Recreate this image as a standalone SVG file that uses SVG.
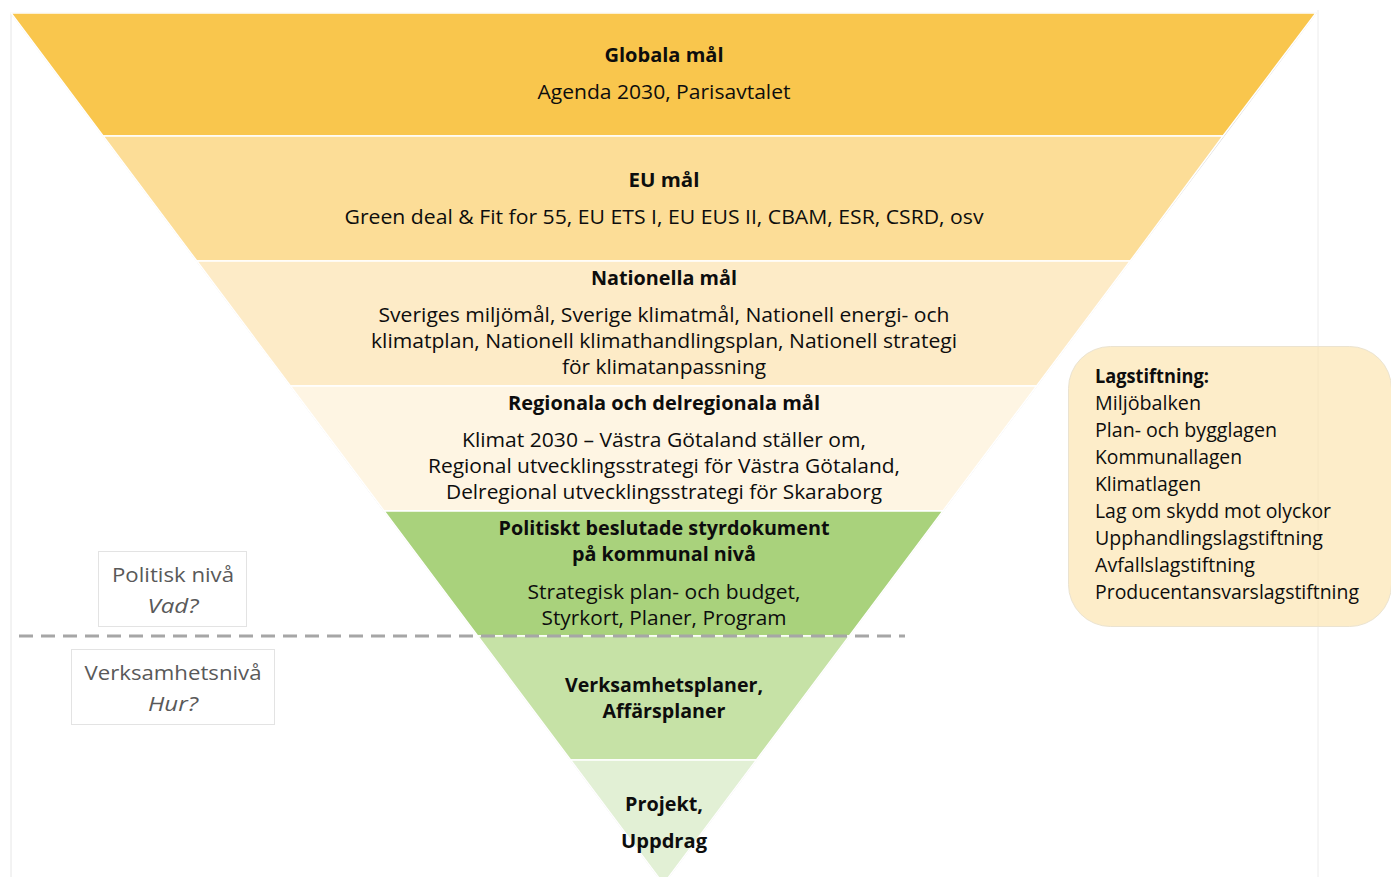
<svg xmlns="http://www.w3.org/2000/svg" width="1391" height="877" viewBox="0 0 1391 877">
<style>
text{font-family:"Open Sans","Noto Sans","Liberation Sans",sans-serif;font-size:19.5px;fill:#0d0d0d;}
.c{text-anchor:middle;}
.b{font-weight:bold;}
.band{stroke:#ffffff;stroke-width:1.5;}
.g{fill:#595959;font-size:20.5px;}
.i{font-style:italic;}
.lbl{fill:#ffffff;stroke:#e3e3e3;stroke-width:1;}
</style>
<rect x="0" y="0" width="1391" height="877" fill="#ffffff"/>
<line x1="11" y1="14" x2="11" y2="877" stroke="#e6e6e6" stroke-width="1"/>
<line x1="1318" y1="10" x2="1318" y2="877" stroke="#ececec" stroke-width="1"/>
<g id="pyramid">
<polygon points="11,13 1316,13 663.5,884" fill="none" stroke="#d9d9d9" stroke-width="1.2"/>
<g id="band-global"><polygon class="band" points="11,13 1316,13 1223,136 103.1,136" fill="#F9C64D"/>
<text class="c b" x="664" y="62" textLength="119" lengthAdjust="spacingAndGlyphs">Globala mål</text>
<text class="c" x="664" y="99" textLength="253" lengthAdjust="spacingAndGlyphs">Agenda 2030, Parisavtalet</text></g>
<g id="band-eu"><polygon class="band" points="103.1,136 1223,136 1130.2,261 196.8,261" fill="#FCDD97"/>
<text class="c b" x="664" y="187" textLength="71" lengthAdjust="spacingAndGlyphs">EU mål</text>
<text class="c" x="664" y="224" textLength="639" lengthAdjust="spacingAndGlyphs">Green deal &amp; Fit for 55, EU ETS I, EU EUS II, CBAM, ESR, CSRD, osv</text></g>
<g id="band-national"><polygon class="band" points="196.8,261 1130.2,261 1036.6,386 290.4,386" fill="#FDEBC7"/>
<text class="c b" x="664" y="285" textLength="146" lengthAdjust="spacingAndGlyphs">Nationella mål</text>
<text class="c" x="664" y="322" textLength="571" lengthAdjust="spacingAndGlyphs">Sveriges miljömål, Sverige klimatmål, Nationell energi- och</text>
<text class="c" x="664" y="348" textLength="586" lengthAdjust="spacingAndGlyphs">klimatplan, Nationell klimathandlingsplan, Nationell strategi</text>
<text class="c" x="664" y="374" textLength="204" lengthAdjust="spacingAndGlyphs">för klimatanpassning</text></g>
<g id="band-regional"><polygon class="band" points="290.4,386 1036.6,386 942.9,511 384.1,511" fill="#FEF5E3"/>
<text class="c b" x="664" y="410" textLength="312" lengthAdjust="spacingAndGlyphs">Regionala och delregionala mål</text>
<text class="c" x="664" y="447" textLength="404" lengthAdjust="spacingAndGlyphs">Klimat 2030 – Västra Götaland ställer om,</text>
<text class="c" x="664" y="473" textLength="472" lengthAdjust="spacingAndGlyphs">Regional utvecklingsstrategi för Västra Götaland,</text>
<text class="c" x="664" y="499" textLength="436" lengthAdjust="spacingAndGlyphs">Delregional utvecklingsstrategi för Skaraborg</text></g>
<g id="band-kommunal"><polygon class="band" points="384.1,511 942.9,511 849.3,636 477.7,636" fill="#A9D27C"/>
<text class="c b" x="664" y="535" textLength="331" lengthAdjust="spacingAndGlyphs">Politiskt beslutade styrdokument</text>
<text class="c b" x="664" y="561" textLength="184" lengthAdjust="spacingAndGlyphs">på kommunal nivå</text>
<text class="c" x="664" y="599" textLength="273" lengthAdjust="spacingAndGlyphs">Strategisk plan- och budget,</text>
<text class="c" x="664" y="625" textLength="245" lengthAdjust="spacingAndGlyphs">Styrkort, Planer, Program</text></g>
<g id="band-verksamhet"><polygon class="band" points="477.7,636 849.3,636 756.4,760 570.6,760" fill="#C6E2A6"/>
<text class="c b" x="664" y="692" textLength="198" lengthAdjust="spacingAndGlyphs">Verksamhetsplaner,</text>
<text class="c b" x="664" y="718" textLength="123" lengthAdjust="spacingAndGlyphs">Affärsplaner</text></g>
<g id="band-projekt"><polygon class="band" points="570.6,760 756.4,760 663.5,884" fill="#E2F0D5"/>
<text class="c b" x="664" y="811" textLength="78" lengthAdjust="spacingAndGlyphs">Projekt,</text>
<text class="c b" x="664" y="848" textLength="86" lengthAdjust="spacingAndGlyphs">Uppdrag</text></g>
</g>
<g id="connectors">
<line x1="19" y1="636" x2="905" y2="636" stroke="#A6A6A6" stroke-width="3" stroke-dasharray="14,8"/>
</g>
<g id="politisk">
<rect class="lbl" x="98.5" y="551.5" width="148" height="75"/>
<text class="c g" x="173" y="582" textLength="122" lengthAdjust="spacingAndGlyphs">Politisk nivå</text>
<text class="c g i" x="173" y="613" textLength="51" lengthAdjust="spacingAndGlyphs">Vad?</text>
</g>
<g id="verksamhetsniva">
<rect class="lbl" x="71.5" y="649.5" width="203" height="75"/>
<text class="c g" x="173" y="680" textLength="177" lengthAdjust="spacingAndGlyphs">Verksamhetsnivå</text>
<text class="c g i" x="173" y="711" textLength="50" lengthAdjust="spacingAndGlyphs">Hur?</text>
</g>
<g id="lagstiftning">
<rect x="1068.5" y="346.5" width="323" height="280" rx="42" ry="42" fill="#FDEDC9" stroke="#ebe3d0" stroke-width="1"/>
<line x1="1318" y1="347" x2="1318" y2="626" stroke="#f6e6c2" stroke-width="1"/>
<text class="b" x="1095" y="383" textLength="114" lengthAdjust="spacingAndGlyphs">Lagstiftning:</text>
<text x="1095" y="410" textLength="106" lengthAdjust="spacingAndGlyphs">Miljöbalken</text>
<text x="1095" y="437" textLength="182" lengthAdjust="spacingAndGlyphs">Plan- och bygglagen</text>
<text x="1095" y="464" textLength="147" lengthAdjust="spacingAndGlyphs">Kommunallagen</text>
<text x="1095" y="491" textLength="106" lengthAdjust="spacingAndGlyphs">Klimatlagen</text>
<text x="1095" y="518" textLength="236" lengthAdjust="spacingAndGlyphs">Lag om skydd mot olyckor</text>
<text x="1095" y="545" textLength="228" lengthAdjust="spacingAndGlyphs">Upphandlingslagstiftning</text>
<text x="1095" y="572" textLength="160" lengthAdjust="spacingAndGlyphs">Avfallslagstiftning</text>
<text x="1095" y="599" textLength="264" lengthAdjust="spacingAndGlyphs">Producentansvarslagstiftning</text>
</g>
</svg>
